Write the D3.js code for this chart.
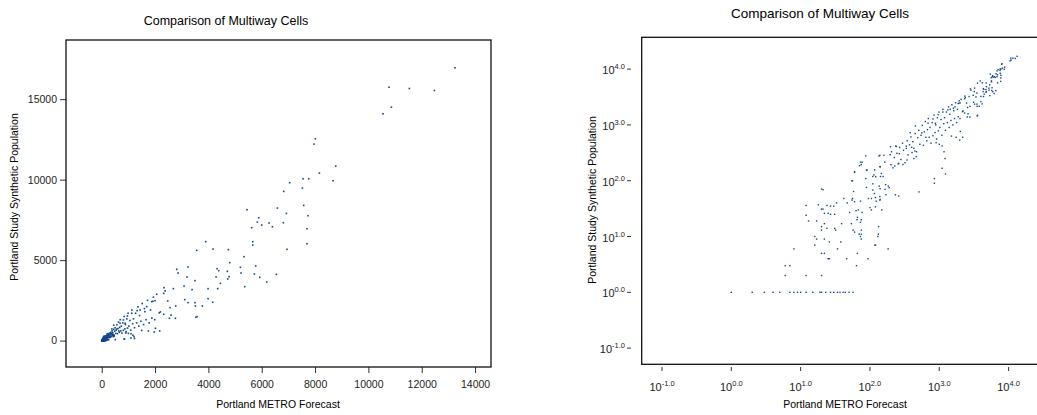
<!DOCTYPE html>
<html>
<head>
<meta charset="utf-8">
<script src="https://cdn.jsdelivr.net/npm/d3@7"></script>
<style>
  body { margin: 0; background: #fff; }
  svg { font-family: "Liberation Sans", Arial, sans-serif; }
  .tick text { fill: #222; }
</style>
</head>
<body>
<svg id="chart" width="1037" height="415"></svg>
<script>
// cells with a synthetic population of exactly one person
const unitCells = [
    [1, 1], [2, 1], [3, 1], [4, 1], [5, 1], [7, 1], [8, 1], [9, 1], [10, 1], [12, 1], [15, 1],
    [19, 1], [20, 1], [23, 1], [27, 1], [30, 1], [34, 1], [37, 1], [41, 1], [44, 1], [50, 1], [57, 1]
];

// small cells [metro forecast, synthetic population]
const smallCells = [
    [6, 2], [12, 2], [20, 2], [6, 3], [7, 3], [64, 3], [25, 4], [26, 4], [46, 4], [94, 4],
    [20, 5], [22, 5], [66, 5], [8, 6], [34, 6], [183, 6], [16, 7], [120, 7], [118, 7], [26, 8], [38, 8],
    [17, 9], [22, 9], [75, 9], [16, 10], [73, 10], [130, 10], [132, 11], [60, 12], [70, 11], [75, 11],
    [20, 13], [32, 13], [57, 13], [75, 13], [31, 14], [133, 15], [20, 15], [24, 14], [22, 17], [39, 17],
    [54, 17], [73, 18], [17, 19], [13, 19], [65, 20], [75, 20], [66, 22], [12, 24], [27, 25], [31, 25],
    [51, 27], [77, 27], [22, 26], [25, 26], [68, 30], [105, 30], [148, 30], [63, 29], [20, 31], [21, 31],
    [27, 35], [12, 36], [18, 37], [24, 36], [30, 35], [100, 33], [120, 34], [33, 40], [47, 40], [73, 43],
    [123, 43], [139, 45], [42, 48], [56, 48], [105, 48], [55, 45], [60, 42], [95, 48], [120, 50], [140, 46],
    [139, 52], [260, 53], [170, 56], [233, 56], [116, 59], [58, 64], [510, 63], [21, 69], [89, 76],
    [110, 68], [140, 72], [165, 70], [190, 75], [20, 71], [136, 80], [184, 80], [168, 85], [110, 88],
    [850, 90], [55, 100], [56, 99], [87, 109], [850, 109], [110, 119], [142, 119], [155, 119], [121, 118],
    [114, 127], [1230, 132], [146, 135], [60, 141], [60, 145], [89, 154], [91, 156], [117, 156], [1100, 167],
    [139, 178], [141, 178], [71, 186], [75, 195], [201, 194], [228, 183], [300, 195], [73, 215], [164, 215],
    [77, 214], [260, 205], [342, 235], [1211, 250], [430, 250], [87, 279], [135, 277], [139, 285], [159, 285],
    [465, 270], [196, 292], [245, 310], [198, 406], [235, 417], [268, 396], [335, 417], [400, 396]
];

// mid-sized cells
const midCells = [
    [205, 330], [215, 170], [225, 260], [240, 410], [255, 200], [265, 305], [280, 240], [295, 470],
    [305, 350], [320, 210], [335, 380], [345, 520], [355, 290], [372, 440], [381, 726], [390, 610],
    [405, 320], [415, 500], [430, 380], [445, 340], [452, 960], [450, 700], [470, 330], [490, 590],
    [505, 800], [525, 450], [545, 650], [560, 720], [570, 980], [590, 430], [610, 750], [630, 1150],
    [640, 600], [660, 520], [675, 820], [688, 1075], [695, 1300], [715, 600], [735, 900], [760, 470],
    [790, 1100], [810, 640], [813, 1280], [840, 1500], [870, 730], [880, 1070], [890, 1000], [900, 480],
    [915, 560], [940, 1350], [963, 1530], [970, 780], [990, 1700], [1000, 450], [1020, 900], [1060, 1250],
    [1090, 650], [1100, 420], [1125, 1700], [1130, 1900], [1160, 1050], [1170, 330], [1190, 1350],
    [1230, 800], [1270, 1700], [1310, 1100], [1330, 1860], [1360, 2100], [1390, 900], [1420, 1550],
    [1438, 1900], [1470, 1200], [1500, 630], [1520, 2300], [1570, 1000], [1600, 1990], [1620, 1800],
    [1660, 1300], [1688, 2110], [1720, 2500], [1750, 600], [1780, 1100], [1830, 1900], [1875, 2420],
    [1880, 1400], [1920, 2440], [1940, 2700], [1970, 535], [1990, 1300], [2000, 2480]
];

// large cells
const largeCells = [
    [13250, 16950], [10775, 15746], [11538, 15663], [12475, 15539], [10863, 14504], [10550, 14090],
    [8013, 12539], [7963, 12208], [8775, 10842], [8163, 10408], [8675, 9932], [7550, 10056],
    [7763, 10056], [7050, 9808], [7525, 9477], [6825, 9270], [7575, 8401], [6588, 8235], [6925, 7904],
    [7738, 7759], [5888, 7635], [5838, 7366], [6275, 7304], [6813, 7325], [6000, 7180], [6400, 7076],
    [5625, 7014], [7700, 6952], [5450, 8132], [5663, 6145], [5663, 5938], [7700, 6021], [3900, 6145],
    [3563, 5607], [4175, 5690], [4750, 5649], [6950, 5669], [5338, 5214], [4800, 4842], [3238, 4573],
    [2813, 4428], [2863, 4200], [4325, 4469], [4388, 4345], [5775, 4635], [5200, 4552], [5225, 4200],
    [4713, 4304], [4775, 3973], [5725, 4138], [5925, 3931], [3200, 3952], [3500, 3724], [4288, 3952],
    [4725, 3828], [6550, 4117], [6188, 3642], [4450, 3559], [5363, 3352], [3088, 3393], [3988, 3228],
    [4350, 3228], [3388, 3166], [2338, 3290], [2688, 3228], [2325, 2938], [2063, 2876], [3113, 2545],
    [3988, 2607], [3238, 2359], [3500, 2359], [4163, 2380], [3513, 2152], [3775, 2152], [3575, 1490],
    [2775, 2152], [2475, 2462], [2563, 2048], [2325, 1635], [2538, 1386], [2763, 1386], [2175, 600],
    [2013, 766], [2380, 3090], [2160, 1725], [2600, 1585], [2200, 1780], [3530, 1450]
];

const cells = unitCells.concat(smallCells, midCells, largeCells);

const linXTicks = [0, 2000, 4000, 6000, 8000, 10000, 12000, 14000];
const linYTicks = [0, 5000, 10000, 15000];
const logExps = [-1, 0, 1, 2, 3, 4];

const titleText = "Comparison of Multiway Cells";
const xLabel = "Portland METRO Forecast";
const yLabel = "Portland Study Synthetic Population";

const dotColor = "#13498a";
const svg = d3.select("#chart");

// ---- left panel: linear scales ----
const xLin = d3.scaleLinear().domain([-1339, 14598]).range([66, 491]);
const yLin = d3.scaleLinear().domain([-1640, 18677]).range([367, 40]);

const left = svg.append("g");

left.append("g")
    .attr("transform", "translate(0,373)")
    .call(d3.axisBottom(xLin).tickValues(linXTicks).tickFormat(d3.format("d")).tickSize(-6).tickPadding(8))
    .call(g => g.select(".domain").remove())
    .call(g => g.selectAll("text").attr("font-size", 10.5))
    .call(g => g.selectAll("line").attr("stroke", "#333"));

left.append("g")
    .attr("transform", "translate(60,0)")
    .call(d3.axisLeft(yLin).tickValues(linYTicks).tickFormat(d3.format("d")).tickSize(-6).tickPadding(3))
    .call(g => g.select(".domain").remove())
    .call(g => g.selectAll("text").attr("font-size", 10.5))
    .call(g => g.selectAll("line").attr("stroke", "#333"));

left.append("rect")
    .attr("x", 66).attr("y", 40).attr("width", 425).attr("height", 327)
    .attr("fill", "none").attr("stroke", "#111").attr("stroke-width", 1.3);

left.append("g").selectAll("rect")
    .data(cells)
    .enter().append("rect")
    .attr("x", d => xLin(d[0]) - 0.8)
    .attr("y", d => yLin(d[1]) - 0.8)
    .attr("width", 1.6).attr("height", 1.6)
    .attr("fill", dotColor);

left.append("text").attr("x", 226).attr("y", 25).attr("text-anchor", "middle")
    .attr("font-size", 12.5).text(titleText);
left.append("text").attr("x", 278).attr("y", 408).attr("text-anchor", "middle")
    .attr("font-size", 10.5).text(xLabel);
left.append("text").attr("transform", "translate(18,197) rotate(-90)").attr("text-anchor", "middle")
    .attr("font-size", 10.5).text(yLabel);

// ---- right panel: log scales ----
const xLog = d3.scaleLog().domain([Math.pow(10, -1.293), Math.pow(10, 4.41)]).range([641.7, 1037]);
const yLog = d3.scaleLog().domain([Math.pow(10, -1.29), Math.pow(10, 4.57)]).range([364.3, 37.3]);

const right = svg.append("g");

right.append("rect")
    .attr("x", 641.7).attr("y", 37.3).attr("width", 420).attr("height", 327)
    .attr("fill", "none").attr("stroke", "#111").attr("stroke-width", 1.3);

const logTickX = right.append("g").selectAll("g")
    .data(logExps).enter().append("g")
    .attr("transform", d => `translate(${xLog(Math.pow(10, d))},0)`);
logTickX.append("line").attr("y1", 367).attr("y2", 371).attr("stroke", "#333");
const lxText = logTickX.append("text").attr("y", 391).attr("text-anchor", "middle").attr("font-size", 11).attr("fill", "#222");
lxText.append("tspan").text("10");
lxText.append("tspan").attr("dy", -5).attr("font-size", 7.5).text(d => d.toFixed(1));

const logTickY = right.append("g").selectAll("g")
    .data(logExps).enter().append("g")
    .attr("transform", d => `translate(0,${yLog(Math.pow(10, d))})`);
logTickY.append("line").attr("x1", 627).attr("x2", 631).attr("stroke", "#333");
const lyText = logTickY.append("text").attr("x", 625).attr("y", 5).attr("text-anchor", "end").attr("font-size", 11).attr("fill", "#222");
lyText.append("tspan").text("10");
lyText.append("tspan").attr("dy", -5).attr("font-size", 7.5).text(d => d.toFixed(1));

right.append("g").selectAll("rect")
    .data(cells)
    .enter().append("rect")
    .attr("x", d => xLog(d[0]) - 0.7)
    .attr("y", d => yLog(d[1]) - 0.7)
    .attr("width", 1.4).attr("height", 1.4)
    .attr("fill", dotColor);

right.append("text").attr("x", 820).attr("y", 18).attr("text-anchor", "middle")
    .attr("font-size", 13.5).text(titleText);
right.append("text").attr("x", 845).attr("y", 408).attr("text-anchor", "middle")
    .attr("font-size", 10.5).text(xLabel);
right.append("text").attr("transform", "translate(596,200) rotate(-90)").attr("text-anchor", "middle")
    .attr("font-size", 10.5).text(yLabel);
</script>
</body>
</html>
